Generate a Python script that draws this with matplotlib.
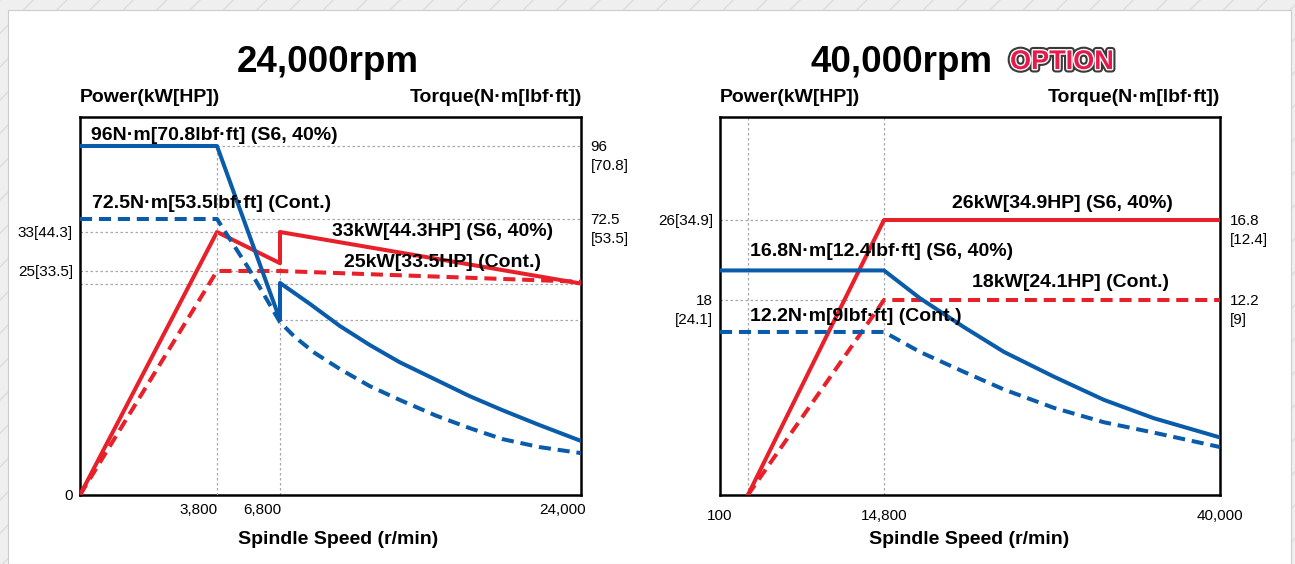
import numpy as np
import matplotlib
matplotlib.use('Agg')
import matplotlib.pyplot as plt
from matplotlib.patches import Rectangle
import matplotlib.patheffects as pe

plt.rcParams['font.family'] = ['Liberation Sans', 'DejaVu Sans']

RED = '#e8202a'
BLUE = '#0a5cab'
GRID = '#a8a8a8'

##### 24,000 rpm spindle #####
power_s6_24k_x = [0, 3800, 6800, 6800, 24000]
power_s6_24k = [0, 33, 26.6, 33, 23.6]
power_cont_24k_x = [0, 3800, 6800, 24000]
power_cont_24k = [0, 25, 25, 23.8]
torque_s6_24k_x = [0, 3800, 6800, 6800, 8510, 10220, 11930, 13630, 15740, 17620, 19500, 21610, 24000]
torque_s6_24k = [96, 96, 46, 55.7, 50.2, 44.4, 39.4, 34.9, 30.2, 26.0, 22.3, 18.4, 14.2]
torque_cont_24k_x = [0, 3800, 5300, 6800, 7650, 8790, 10220, 11930, 13630, 15740, 17620, 19500, 21610, 24000]
torque_cont_24k = [72.5, 72.5, 59.6, 45.4, 41.5, 37.3, 33.1, 28.6, 25.0, 20.8, 17.6, 14.7, 12.6, 11.0]

xticks_24k = [3800, 6800, 24000]
xlabels_24k = ['3,800', '6,800', '24,000']
power_ticks_24k = [0, 25, 33]
power_labels_24k = ['0', '25[33.5]', '33[44.3]']
torque_ticks_24k = [72.5, 96]
torque_labels_24k = ['72.5\n[53.5]', '96\n[70.8]']

##### 40,000 rpm spindle (option) #####
power_40k_x = [2600, 14800, 40000]
power_s6_40k = [0, 26, 26]
power_cont_40k = [0, 18, 18]
torque_40k_x = [100, 14800, 17500, 20800, 23800, 27550, 31300, 35050, 40000]
torque_s6_40k = [13.9, 13.9, 12.3, 10.5, 8.95, 7.4, 5.95, 4.8, 3.6]
torque_cont_40k = [10.2, 10.2, 8.95, 7.7, 6.6, 5.45, 4.55, 3.9, 3.0]

xticks_40k = [100, 14800, 40000]
xlabels_40k = ['100', '14,800', '40,000']
power_ticks_40k = [18, 26]
power_labels_40k = ['18\n[24.1]', '26[34.9]']
torque_ticks_40k = [12.2, 16.8]
torque_labels_40k = ['12.2\n[9]', '16.8\n[12.4]']

TICK_FS = 11
LABEL_FS = 14


def knot_scale(values, positions):
    # piecewise linear axis (the chart is not drawn to scale)
    def fwd(v):
        return np.interp(v, values, positions)

    def inv(p):
        return np.interp(p, positions, values)
    return fwd, inv


def ylab(ax, y, text, side):
    # first line of the label is centred on the tick value
    if side == 'left':
        ax.annotate(text, xy=(0, y), xycoords=('axes fraction', 'data'), xytext=(-5, 4),
                    textcoords='offset points', ha='right', va='top', fontsize=TICK_FS, linespacing=1.45)
    else:
        ax.annotate(text, xy=(1, y), xycoords=('axes fraction', 'data'), xytext=(7, 4),
                    textcoords='offset points', ha='left', va='top', fontsize=TICK_FS, linespacing=1.45)


def xlab(ax, x, text, dx, dy):
    ax.annotate(text, xy=(x, 0), xycoords=('data', 'axes fraction'), xytext=(dx, dy),
                textcoords='offset points', ha='center', va='top', fontsize=TICK_FS)


def setup(rect, xk, xp, pk, pp, tk, tp):
    ax = fig.add_axes(rect)
    ax.set_xscale('function', functions=knot_scale(xk, xp))
    ax.set_yscale('function', functions=knot_scale(pk, pp))
    ax.set_xlim(xk[0], xk[-1])
    ax.set_ylim(pk[0], pk[-1])
    ax2 = ax.twinx()
    ax2.set_yscale('function', functions=knot_scale(tk, tp))
    ax2.set_ylim(tk[0], tk[-1])
    for a in (ax, ax2):
        a.set_xticks([])
        a.set_yticks([])
        a.set_facecolor('none')
    for s in ax.spines.values():
        s.set_linewidth(1.8)
    for s in ax2.spines.values():
        s.set_visible(False)
    return ax, ax2


def grid_h(a, y, x0, x1):
    a.hlines(y, x0, x1, colors=GRID, lw=0.9, linestyles=(0, (2, 2)), zorder=1)


def grid_v(a, x, y0, y1):
    a.vlines(x, y0, y1, colors=GRID, lw=0.9, linestyles=(0, (2, 2)), zorder=1)


fig = plt.figure(figsize=(12.95, 5.64), dpi=100, facecolor='#efefef')
fig.patches.append(Rectangle((0, 0), 1, 1, transform=fig.transFigure, facecolor='none',
                             edgecolor='#dcdcdc', hatch='/', lw=0, zorder=-2))
fig.patches.append(Rectangle((8 / 1295, 0), 1283 / 1295, 554 / 564, transform=fig.transFigure,
                             facecolor='white', edgecolor='#cccccc', lw=0.8, zorder=-1))

lw = 2.9
dash = (0, (3.0, 1.7))

##### left chart #####
ax, ax2 = setup([80 / 1295, 69 / 564, 501 / 1295, 378 / 564],
                [0, 3800, 6800, 24000], [0, 137, 200, 501],
                [0, 25, 33, 56.6], [0, 224, 263, 378],
                [0, 72.5, 96, 105.3], [0, 276, 349, 378])

grid_h(ax, 33, 0, 6800)
grid_h(ax, 25, 0, 6800)
grid_h(ax, power_s6_24k[-1], 0, 24000)
grid_v(ax, 6800, 0, 33)
grid_h(ax2, 96, 3800, 24000)
grid_h(ax2, 72.5, 3800, 24000)
grid_h(ax2, 46, 6800, 24000)
grid_v(ax2, 3800, 0, 96)

ax.plot(power_s6_24k_x, power_s6_24k, color=RED, lw=lw, zorder=3)
ax.plot(power_cont_24k_x, power_cont_24k, color=RED, lw=lw, ls=dash, zorder=3)
ax2.plot(torque_s6_24k_x, torque_s6_24k, color=BLUE, lw=lw, zorder=3)
ax2.plot(torque_cont_24k_x, torque_cont_24k, color=BLUE, lw=lw, ls=dash, zorder=3)

for x, s in zip(xticks_24k, xlabels_24k):
    xlab(ax, x, s, -13, -6)
for y, s in zip(power_ticks_24k, power_labels_24k):
    ylab(ax, y, s, 'left')
for y, s in zip(torque_ticks_24k, torque_labels_24k):
    ylab(ax2, y, s, 'right')

bold = dict(fontsize=LABEL_FS, fontweight='bold', va='center', ha='left', transform=ax2.transAxes, zorder=6)
ax2.text(0.022, 0.952, '96N·m[70.8lbf·ft] (S6, 40%)', **bold)
ax2.text(0.024, 0.770, '72.5N·m[53.5lbf·ft] (Cont.)', **bold)
ax2.text(0.503, 0.696, '33kW[44.3HP] (S6, 40%)', **bold)
ax2.text(0.527, 0.616, '25kW[33.5HP] (Cont.)', **bold)

##### right chart #####
bx, bx2 = setup([720 / 1295, 69 / 564, 500 / 1295, 378 / 564],
                [100, 14800, 40000], [0, 164, 500],
                [0, 18, 26, 36.3], [0, 195, 275, 378],
                [0, 12.2, 16.8, 22.7], [0, 195, 275, 378])

grid_h(bx, 26, 100, 14800)
grid_h(bx, 18, 100, 14800)
grid_v(bx, 2600, 0, 36.3)
grid_v(bx, 14800, 0, 36.3)

bx.plot(power_40k_x, power_s6_40k, color=RED, lw=lw, zorder=3)
bx.plot(power_40k_x, power_cont_40k, color=RED, lw=lw, ls=dash, zorder=3)
bx2.plot(torque_40k_x, torque_s6_40k, color=BLUE, lw=lw, zorder=3)
bx2.plot(torque_40k_x, torque_cont_40k, color=BLUE, lw=lw, ls=dash, zorder=3)

for x, s in zip(xticks_40k, xlabels_40k):
    xlab(bx, x, s, 0, -10)
for y, s in zip(power_ticks_40k, power_labels_40k):
    ylab(bx, y, s, 'left')
for y, s in zip(torque_ticks_40k, torque_labels_40k):
    ylab(bx2, y, s, 'right')

bold['transform'] = bx2.transAxes
bx2.text(0.464, 0.770, '26kW[34.9HP] (S6, 40%)', **bold)
bx2.text(0.06, 0.643, '16.8N·m[12.4lbf·ft] (S6, 40%)', **bold)
bx2.text(0.504, 0.561, '18kW[24.1HP] (Cont.)', **bold)
bx2.text(0.06, 0.471, '12.2N·m[9lbf·ft] (Cont.)', **bold)

##### titles and axis names #####
fig.text(328 / 1295, 0.890, '24,000rpm', fontsize=26.5, fontweight='bold', ha='center', va='center')
fig.text(993 / 1295, 0.890, '40,000rpm', fontsize=26.5, fontweight='bold', ha='right', va='center')
fig.text(1010 / 1295, 0.890, 'OPTION', fontsize=19.5, fontweight='bold', ha='left', va='center',
         color='#e8194c',
         path_effects=[pe.withStroke(linewidth=5, foreground='#3a3a3a'),
                       pe.Stroke(linewidth=2, foreground='white'), pe.Normal()])

for left, right, mid in ((80, 582, 338), (720, 1220, 969)):
    fig.text(left / 1295, (564 - 98) / 564, 'Power(kW[HP])', fontsize=LABEL_FS, fontweight='bold',
             ha='left', va='center')
    fig.text(right / 1295, (564 - 98) / 564, 'Torque(N·m[lbf·ft])', fontsize=LABEL_FS, fontweight='bold',
             ha='right', va='center')
    fig.text(mid / 1295, 24 / 564, 'Spindle Speed (r/min)', fontsize=LABEL_FS,
             fontweight='bold', ha='center', va='center')

fig.savefig('out.png', dpi=100, facecolor=fig.get_facecolor())
